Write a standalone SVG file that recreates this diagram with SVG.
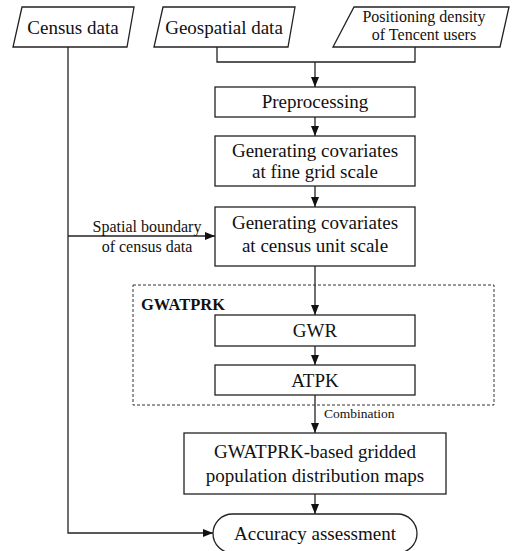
<svg xmlns="http://www.w3.org/2000/svg" width="516" height="551" viewBox="0 0 516 551">
<style>
.box{fill:#fff;stroke:#222;stroke-width:1.3}
.ln{fill:none;stroke:#222;stroke-width:1.3}
.t,.s,.c,.b{font-family:'Liberation Serif','DejaVu Serif','Times New Roman',Times,serif;fill:#111}
.t{font-size:19px;text-anchor:middle}
.s{font-size:16px;text-anchor:middle}
.c{font-size:13.5px}
.b{font-size:16.5px;font-weight:bold}
</style>
<defs>
<marker id="ah" markerUnits="userSpaceOnUse" markerWidth="10" markerHeight="10" viewBox="0 0 10 10" refX="10" refY="5" orient="auto">
<path d="M0,1 L10,5 L0,9 Z" fill="#111"/>
</marker>
</defs>
<rect width="516" height="551" fill="#fff"/>
<g id="connectors">
<path class="ln" d="M68,47 V533 H213" marker-end="url(#ah)"/>
<path class="ln" d="M68,236 H215" marker-end="url(#ah)"/>
<path class="ln" d="M217,47 V62 H415 V47"/>
<path class="ln" d="M315,62 V87" marker-end="url(#ah)"/>
<path class="ln" d="M315,117 V136" marker-end="url(#ah)"/>
<path class="ln" d="M315,186 V207" marker-end="url(#ah)"/>
<path class="ln" d="M315,266 V315" marker-end="url(#ah)"/>
<path class="ln" d="M315,346 V365" marker-end="url(#ah)"/>
<path class="ln" d="M315,395 V433" marker-end="url(#ah)"/>
<path class="ln" d="M315,494 V514" marker-end="url(#ah)"/>
<text class="s" x="147" y="232">Spatial boundary</text>
<text class="s" x="147" y="252">of census data</text>
<text class="c" x="324" y="418">Combination</text>
</g>
<g id="census">
<polygon class="box" points="22,7 134,7 127,47 13,47"/>
<text class="t" x="73" y="34">Census data</text>
</g>
<g id="geospatial">
<polygon class="box" points="163,7 295,7 288,47 154,47"/>
<text class="t" x="224" y="34">Geospatial data</text>
</g>
<g id="positioning">
<polygon class="box" points="354,7 509,7 500,47 333,47"/>
<text class="s" x="424" y="22">Positioning density</text>
<text class="s" x="424" y="40">of Tencent users</text>
</g>
<g id="preprocessing">
<rect class="box" x="215" y="87" width="200" height="30"/>
<text class="t" x="315" y="108">Preprocessing</text>
</g>
<g id="fine">
<rect class="box" x="215" y="136" width="200" height="50"/>
<text class="t" x="315" y="157">Generating covariates</text>
<text class="t" x="315" y="178">at fine grid scale</text>
</g>
<g id="censusunit">
<rect class="box" x="215" y="207" width="200" height="59"/>
<text class="t" x="315" y="229">Generating covariates</text>
<text class="t" x="315" y="252">at census unit scale</text>
</g>
<g id="gwatprk">
<rect x="133" y="285" width="361" height="120" fill="none" stroke="#333" stroke-width="1" stroke-dasharray="3,2"/>
<text class="b" x="141" y="310">GWATPRK</text>
</g>
<g id="gwr">
<rect class="box" x="215" y="315" width="200" height="31"/>
<text class="t" x="315" y="337">GWR</text>
</g>
<g id="atpk">
<rect class="box" x="215" y="365" width="200" height="30"/>
<text class="t" x="315" y="387">ATPK</text>
</g>
<g id="maps">
<rect class="box" x="184" y="433" width="262" height="61"/>
<text class="t" x="315" y="458">GWATPRK-based gridded</text>
<text class="t" x="315" y="482">population distribution maps</text>
</g>
<g id="accuracy">
<rect class="box" x="213" y="514" width="204" height="39" rx="19.5" ry="19.5"/>
<text class="t" x="315" y="540">Accuracy assessment</text>
</g>
</svg>
